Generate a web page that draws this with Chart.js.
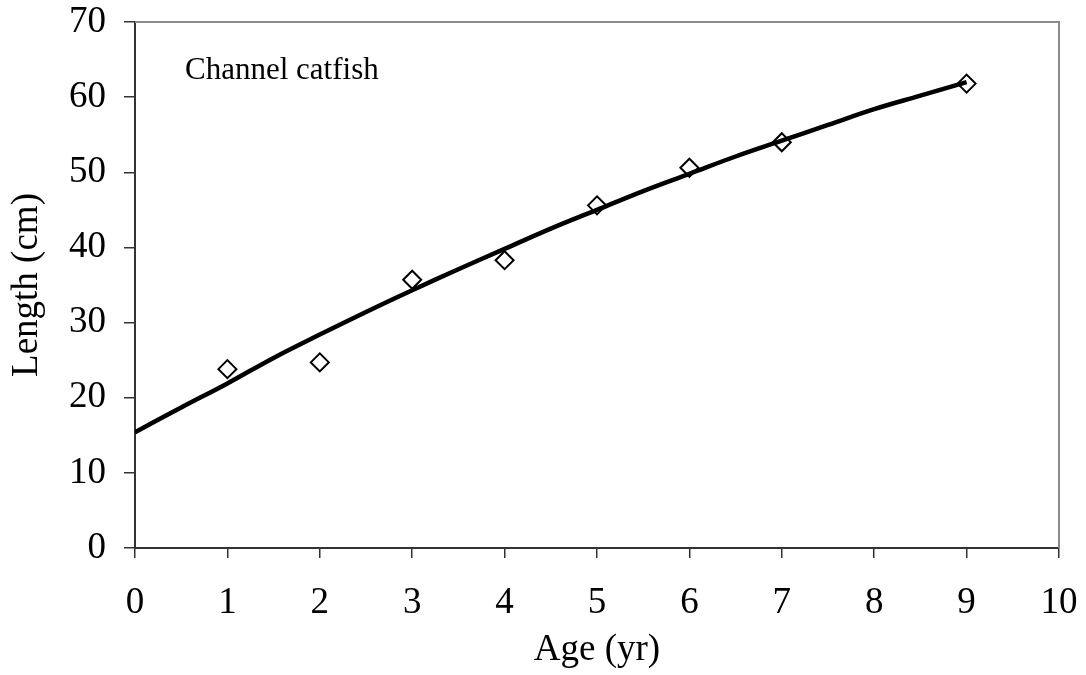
<!DOCTYPE html>
<html>
<head>
<meta charset="utf-8">
<script src="https://cdn.jsdelivr.net/npm/chart.js@4"></script>
<style>
  html, body { margin: 0; padding: 0; background: #fff; }
  #chart { display: block; }
</style>
</head>
<body>
<canvas id="chart" width="1086" height="675"></canvas>
<script>
// observed length at age
const ages = [1, 2, 3, 4, 5, 6, 7, 9];
const lengths = [23.8, 24.7, 35.7, 38.3, 45.6, 50.6, 54.0, 61.8];

// fitted growth curve, every half year
const fitAges = [0, 0.5, 1, 1.5, 2, 2.5, 3, 3.5, 4, 4.5, 5, 5.5, 6, 6.5, 7, 7.5, 8, 8.5, 9];
const fitLengths = [15.4, 18.7, 21.9, 25.3, 28.4, 31.4, 34.3, 37.1, 39.8, 42.5, 45.0, 47.5, 49.8, 52.1, 54.2, 56.3, 58.4, 60.2, 62.0];

const xTicks = [0, 1, 2, 3, 4, 5, 6, 7, 8, 9, 10];
const yTicks = [0, 10, 20, 30, 40, 50, 60, 70];

const label = 'Channel catfish';
const serif = '"Liberation Serif", "Times New Roman", serif';

// top and right frame lines plus the species label
const framePlugin = {
  id: 'frame',
  afterDraw(chart) {
    const { ctx, chartArea: a } = chart;
    ctx.save();
    ctx.strokeStyle = '#8a8a8a';
    ctx.lineWidth = 2;
    ctx.beginPath();
    ctx.moveTo(a.left, a.top);
    ctx.lineTo(a.right, a.top);
    ctx.lineTo(a.right, a.bottom);
    ctx.stroke();

    ctx.fillStyle = '#000';
    ctx.font = '31px ' + serif;
    ctx.textBaseline = 'alphabetic';
    ctx.fillText(label, a.left + 50, a.top + 57);
    ctx.restore();
  }
};

new Chart(document.getElementById('chart'), {
  type: 'scatter',
  data: {
    datasets: [
      {
        label: 'Observed',
        data: ages.map((a, i) => ({ x: a, y: lengths[i] })),
        pointStyle: 'rectRot',
        pointRadius: 9,
        pointBorderWidth: 2,
        pointBorderColor: '#000',
        pointBackgroundColor: 'rgba(0,0,0,0)',
        showLine: false,
        order: 1
      },
      {
        label: 'Fitted',
        data: fitAges.map((a, i) => ({ x: a, y: fitLengths[i] })),
        showLine: true,
        borderColor: '#000',
        borderWidth: 4.5,
        pointRadius: 0,
        tension: 0.4,
        order: 2
      }
    ]
  },
  options: {
    responsive: false,
    animation: false,
    layout: { padding: { left: 0, top: 22, right: 27, bottom: 0 } },
    plugins: {
      legend: { display: false },
      tooltip: { enabled: false }
    },
    scales: {
      x: {
        type: 'linear',
        min: 0,
        max: 10,
        afterBuildTicks: axis => { axis.ticks = xTicks.map(v => ({ value: v })); },
        afterFit: axis => {
          axis.height = 127;
          axis.paddingLeft = 0;
          axis.paddingRight = 0;
        },
        border: { color: '#333', width: 2 },
        grid: { drawOnChartArea: false, drawTicks: true, tickLength: 10, color: '#333', lineWidth: 1.5 },
        ticks: { color: '#000', padding: 23, font: { family: serif, size: 37 } },
        title: {
          display: true,
          text: 'Age (yr)',
          color: '#000',
          padding: { top: 0, bottom: 3 },
          font: { family: serif, size: 37 }
        }
      },
      y: {
        min: 0,
        max: 70,
        afterBuildTicks: axis => { axis.ticks = yTicks.map(v => ({ value: v })); },
        afterFit: axis => {
          axis.width = 135;
          axis.paddingTop = 0;
          axis.paddingBottom = 0;
        },
        border: { color: '#333', width: 2 },
        grid: { drawOnChartArea: false, drawTicks: true, tickLength: 11, color: '#333', lineWidth: 1.5 },
        ticks: { color: '#000', padding: 18, font: { family: serif, size: 37 } },
        title: {
          display: true,
          text: 'Length (cm)',
          color: '#000',
          padding: { top: 5, bottom: 0 },
          font: { family: serif, size: 37 }
        }
      }
    }
  },
  plugins: [framePlugin]
});
</script>
</body>
</html>
